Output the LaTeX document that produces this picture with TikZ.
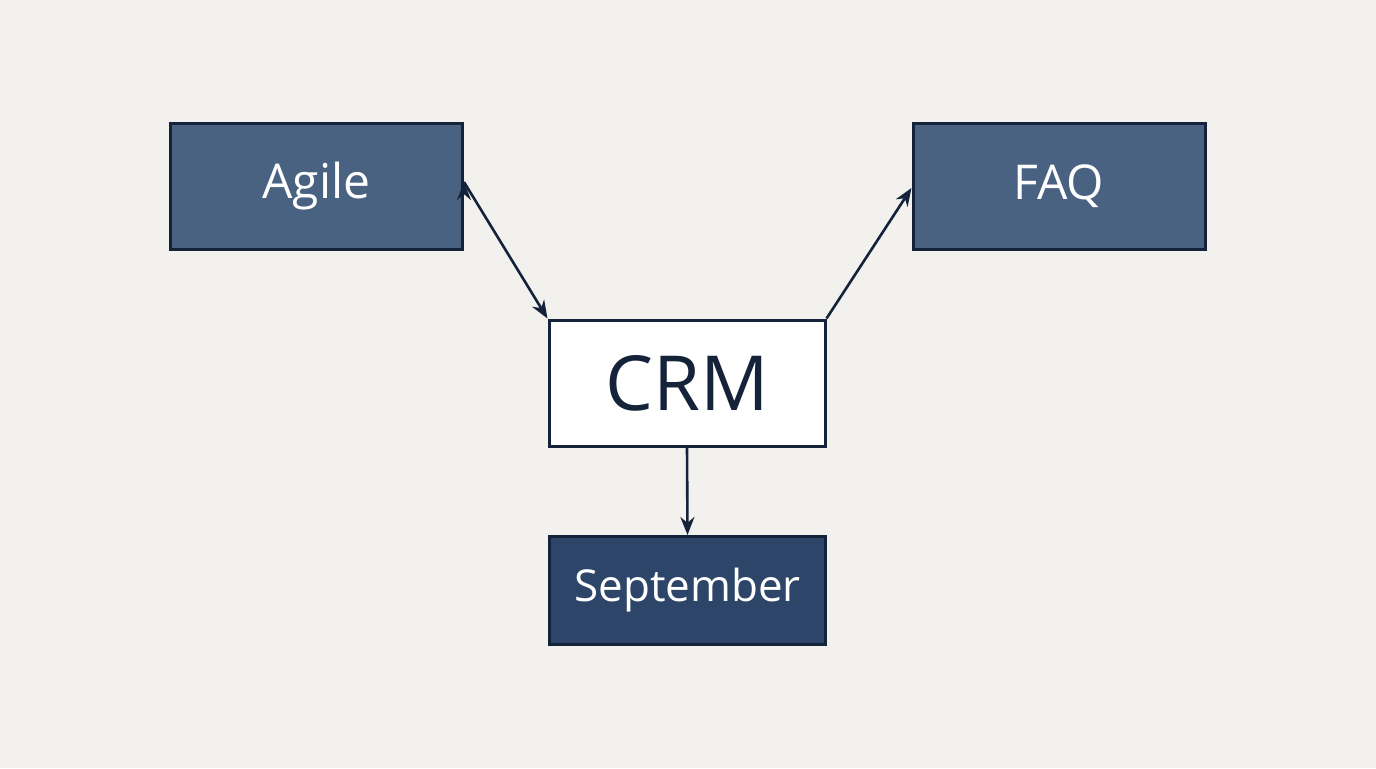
\documentclass[tikz,border=0pt]{standalone}
\usepackage{fontspec}
\setmainfont{Open Sans}
\usetikzlibrary{arrows.meta}
\definecolor{bg}{HTML}{F2F1ED}
\definecolor{edge}{HTML}{14233A}
\definecolor{mid}{HTML}{4A6282}
\definecolor{deep}{HTML}{2C4568}
\begin{document}
\begin{tikzpicture}[x=0.5pt,y=-0.5pt,
  box/.style={draw=edge,line width=1.5pt,minimum width=146pt,minimum height=63pt,inner sep=0pt},
  arr/.style={draw=edge,line width=1.3pt,-{Stealth[length=9pt,width=7pt]}}]
\fill[bg] (0,0) rectangle (1376,768);
\useasboundingbox (0,0) rectangle (1376,768);
\node[box,fill=mid,text=white,font=\fontsize{24}{28}\selectfont] (agile) at (316.5,186) {Agile};
\node[box,fill=mid,text=white,font=\fontsize{24}{28}\selectfont] (faq) at (1059,186) {FAQ};
\node[box,fill=white,text=edge,minimum width=138pt,font=\fontsize{38}{44}\selectfont] (crm) at (687,383) {CRM};
\node[box,fill=deep,text=white,minimum width=138pt,minimum height=54pt,font=\fontsize{22}{26}\selectfont] (sep) at (687.5,590.5) {September};
\draw[arr] (agile.east) ++(0,2pt) coordinate (a1);
\draw[arr] (a1) -- (crm.north west);
\draw[arr] (crm.north east) -- ([yshift=-1pt]faq.west);
\draw[arr] (crm.south) -- (sep.north);
\end{tikzpicture}
\end{document}
